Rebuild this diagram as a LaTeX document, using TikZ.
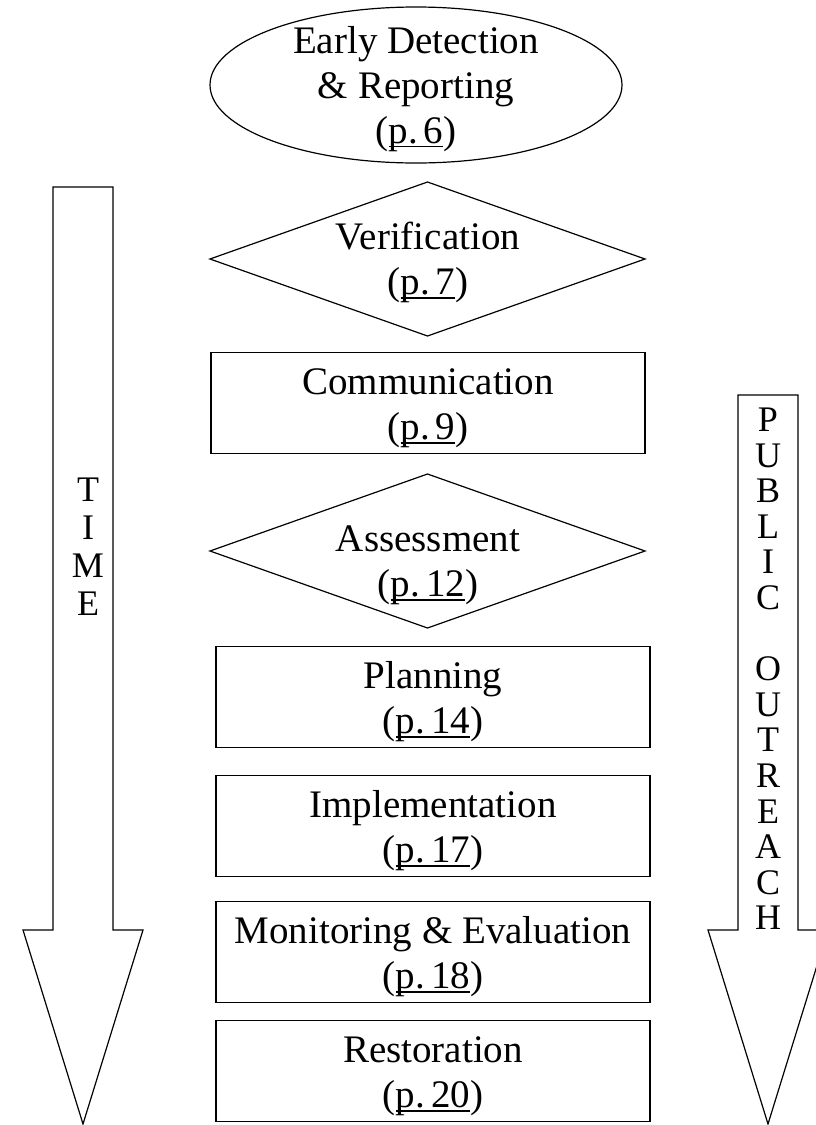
\documentclass[tikz,border=0pt]{standalone}
\usepackage{fontspec}
\setmainfont{Liberation Serif}

% underlined page reference in brackets
\newcommand{\stagepg}[1]{(\setbox0\hbox{p.\kern6pt#1}\rlap{\rule[-4pt]{\wd0}{1.2pt}}\box0)}
% taller first line, puts the text a little lower in its shape
\newcommand{\stagetop}{\rule{0pt}{36.6pt}}

\tikzset{
  stageline/.style={draw, line width=1.2pt, line join=miter},
  stage/.style={align=center, inner sep=0pt, font=\fontsize{39}{45}\selectfont},
  stagebox/.style={stage, stageline, rectangle, minimum width=434pt, minimum height=101pt},
  letters/.style={align=center, inner sep=0pt, font=\fontsize{36}{38}\selectfont}
}

\begin{document}
\begin{tikzpicture}[x=1pt, y=-1pt]
  \useasboundingbox (0,0) rectangle (816,1125);

  % the stages
  \coordinate (detectc) at (416,85);
  \draw[stageline] (detectc) ellipse [x radius=206, y radius=78];
  \node[stage] (detect) at (416,84)
    {\stagetop Early Detection\\\& Reporting\\\stagepg{6}};

  \coordinate (verifyc) at (427.5,259);
  \draw[stageline] (verifyc) ++(-217.5,0) -- ++(217.5,-77) -- ++(217.5,77) -- ++(-217.5,77) -- cycle;
  \node[stage] (verify) at (428,258) {\stagetop Verification\\\stagepg{7}};

  \node[stagebox] (comm) at (428,403) {\stagetop Communication\\\stagepg{9}};

  \coordinate (assessc) at (427.5,551);
  \draw[stageline] (assessc) ++(-217.5,0) -- ++(217.5,-77) -- ++(217.5,77) -- ++(-217.5,77) -- cycle;
  \node[stage] (assess) at (428,560) {\stagetop Assessment\\\stagepg{12}};

  \node[stagebox] (plan) at (433,697) {\stagetop Planning\\\stagepg{14}};
  \node[stagebox] (implement) at (433,826) {\stagetop Implementation\\\stagepg{17}};
  \node[stagebox] (monitor) at (433,952) {\stagetop Monitoring \& Evaluation\\\stagepg{18}};
  \node[stagebox] (restore) at (433,1071) {\stagetop Restoration\\\stagepg{20}};

  % time arrow
  \coordinate (T1) at (53,187);
  \coordinate (T2) at (113,187);
  \draw[stageline] (T1) -- (T2) -- (113,930) -- (143,930) -- (83,1124)
    -- (23,930) -- (53,930) -- cycle;
  \node[letters] (time) at (88,547) {T\\I\\M\\E};

  % public outreach arrow
  \coordinate (P1) at (738,395);
  \coordinate (P2) at (798,395);
  \draw[stageline] (P1) -- (P2) -- (798,930) -- (828,930) -- (768,1124)
    -- (708,930) -- (738,930) -- cycle;
  \node[letters, font=\fontsize{36}{35.6}\selectfont] (outreach) at (768,669)
    {P\\U\\B\\L\\I\\C\\~\\O\\U\\T\\R\\E\\A\\C\\H};
\end{tikzpicture}
\end{document}
